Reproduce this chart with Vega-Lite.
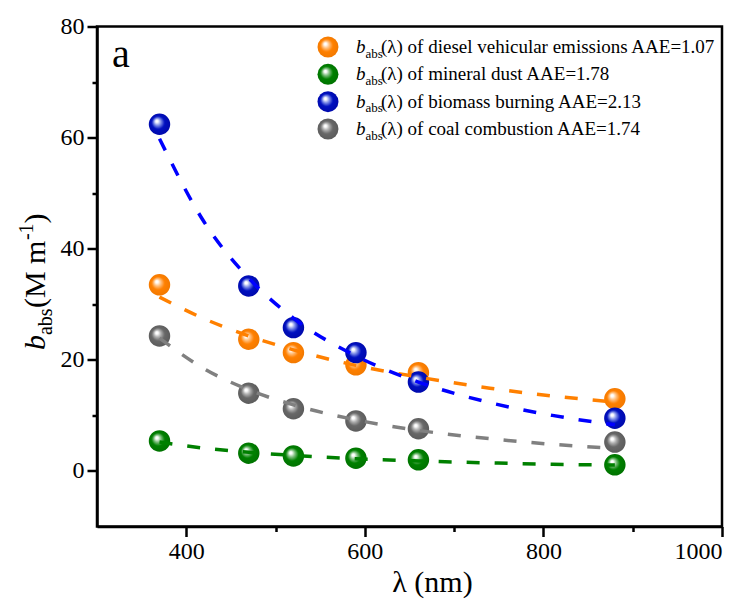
{
  "$schema": "https://vega.github.io/schema/vega-lite/v6.json",
  "width": 625,
  "height": 500,
  "autosize": {"type": "none"},
  "padding": {"left": 97, "top": 26.5, "right": 28, "bottom": 78.5},
  "background": "white",
  "config": {
    "view": {"stroke": "black", "strokeWidth": 2.5},
    "axis": {
      "grid": false,
      "domainColor": "black",
      "domainWidth": 2.5,
      "tickColor": "black",
      "tickWidth": 2.5,
      "labelFont": "Liberation Serif",
      "labelFontSize": 24,
      "labelColor": "black",
      "labelPadding": 3,
      "titleFont": "Liberation Serif",
      "titleFontSize": 30,
      "titleFontWeight": "normal",
      "titleColor": "black"
    }
  },
  "datasets": {
    "obs": [
      {"series": "diesel", "wl": 370, "b": 33.5},
      {"series": "diesel", "wl": 470, "b": 23.7},
      {"series": "diesel", "wl": 520, "b": 21.3},
      {"series": "diesel", "wl": 590, "b": 19.1},
      {"series": "diesel", "wl": 660, "b": 17.7},
      {"series": "diesel", "wl": 880, "b": 13.0},
      {"series": "dust", "wl": 370, "b": 5.4},
      {"series": "dust", "wl": 470, "b": 3.2},
      {"series": "dust", "wl": 520, "b": 2.7},
      {"series": "dust", "wl": 590, "b": 2.3},
      {"series": "dust", "wl": 660, "b": 2.0},
      {"series": "dust", "wl": 880, "b": 1.1},
      {"series": "biomass", "wl": 370, "b": 62.4},
      {"series": "biomass", "wl": 470, "b": 33.3},
      {"series": "biomass", "wl": 520, "b": 25.8},
      {"series": "biomass", "wl": 590, "b": 21.3},
      {"series": "biomass", "wl": 660, "b": 16.0},
      {"series": "biomass", "wl": 880, "b": 9.5},
      {"series": "coal", "wl": 370, "b": 24.3},
      {"series": "coal", "wl": 470, "b": 14.0},
      {"series": "coal", "wl": 520, "b": 11.2},
      {"series": "coal", "wl": 590, "b": 9.0},
      {"series": "coal", "wl": 660, "b": 7.6},
      {"series": "coal", "wl": 880, "b": 5.2}
    ],
    "fit": [
      {"series": "diesel", "wl": 370, "b": 31.3},
      {"series": "diesel", "wl": 420, "b": 27.4},
      {"series": "diesel", "wl": 470, "b": 24.3},
      {"series": "diesel", "wl": 520, "b": 21.8},
      {"series": "diesel", "wl": 590, "b": 19.0},
      {"series": "diesel", "wl": 660, "b": 16.9},
      {"series": "diesel", "wl": 740, "b": 14.9},
      {"series": "diesel", "wl": 810, "b": 13.5},
      {"series": "diesel", "wl": 880, "b": 12.4},
      {"series": "dust", "wl": 370, "b": 5.2},
      {"series": "dust", "wl": 420, "b": 4.1},
      {"series": "dust", "wl": 470, "b": 3.35},
      {"series": "dust", "wl": 520, "b": 2.8},
      {"series": "dust", "wl": 590, "b": 2.2},
      {"series": "dust", "wl": 660, "b": 1.8},
      {"series": "dust", "wl": 740, "b": 1.45},
      {"series": "dust", "wl": 810, "b": 1.2},
      {"series": "dust", "wl": 880, "b": 1.05},
      {"series": "biomass", "wl": 370, "b": 59.8},
      {"series": "biomass", "wl": 420, "b": 44.8},
      {"series": "biomass", "wl": 470, "b": 34.7},
      {"series": "biomass", "wl": 520, "b": 27.5},
      {"series": "biomass", "wl": 590, "b": 20.7},
      {"series": "biomass", "wl": 660, "b": 16.0},
      {"series": "biomass", "wl": 740, "b": 12.3},
      {"series": "biomass", "wl": 810, "b": 10.0},
      {"series": "biomass", "wl": 880, "b": 8.3},
      {"series": "coal", "wl": 370, "b": 23.9},
      {"series": "coal", "wl": 420, "b": 18.4},
      {"series": "coal", "wl": 470, "b": 14.6},
      {"series": "coal", "wl": 520, "b": 11.9},
      {"series": "coal", "wl": 590, "b": 9.2},
      {"series": "coal", "wl": 660, "b": 7.3},
      {"series": "coal", "wl": 740, "b": 5.8},
      {"series": "coal", "wl": 810, "b": 4.8},
      {"series": "coal", "wl": 880, "b": 4.05}
    ],
    "legend": [
      {"series": "diesel", "name": "(λ) of diesel vehicular emissions AAE=1.07"},
      {"series": "dust", "name": "(λ) of mineral dust AAE=1.78"},
      {"series": "biomass", "name": "(λ) of biomass burning AAE=2.13"},
      {"series": "coal", "name": "(λ) of coal combustion AAE=1.74"}
    ],
    "one": [{"id": 1}]
  },
  "layer": [
    {
      "layer": [
        {
          "data": {"name": "obs"},
          "transform": [{"filter": "datum.series === 'diesel'"}],
          "mark": {"type": "point", "shape": "circle", "filled": true, "size": 460, "opacity": 1, "strokeWidth": 0,
            "fill": {"gradient": "radial", "x1": 0.36, "y1": 0.34, "r1": 0, "x2": 0.5, "y2": 0.5, "r2": 0.55,
              "stops": [{"offset": 0, "color": "#ffffff"}, {"offset": 0.1, "color": "#ffffff"}, {"offset": 0.3, "color": "#ffc080"}, {"offset": 0.55, "color": "#ff8000"}, {"offset": 1, "color": "#f07800"}]}},
          "encoding": {
            "x": {
              "field": "wl", "type": "quantitative",
              "scale": {"domain": [300, 1000], "nice": false, "zero": false},
              "axis": {
                "values": [400, 500, 600, 700, 800, 900, 1000],
                "format": "d",
                "labelExpr": "datum.value % 200 === 0 ? datum.label : ''",
                "tickSize": {"condition": {"test": "datum.value % 200 === 0", "value": 10}, "value": 5},
                "title": "λ (nm)",
                "titleX": 335
              }
            },
            "y": {
              "field": "b", "type": "quantitative",
              "scale": {"domain": [-10, 80], "nice": false, "zero": false},
              "axis": {
                "values": [0, 10, 20, 30, 40, 50, 60, 70, 80],
                "labelExpr": "datum.value % 20 === 0 ? datum.label : ''",
                "tickSize": {"condition": {"test": "datum.value % 20 === 0", "value": 10}, "value": 5},
                "title": null
              }
            }
          }
        },
        {
          "data": {"name": "obs"},
          "transform": [{"filter": "datum.series === 'dust'"}],
          "mark": {"type": "point", "shape": "circle", "filled": true, "size": 460, "opacity": 1, "strokeWidth": 0,
            "fill": {"gradient": "radial", "x1": 0.36, "y1": 0.34, "r1": 0, "x2": 0.5, "y2": 0.5, "r2": 0.55,
              "stops": [{"offset": 0, "color": "#ffffff"}, {"offset": 0.1, "color": "#ffffff"}, {"offset": 0.3, "color": "#80c080"}, {"offset": 0.55, "color": "#008000"}, {"offset": 1, "color": "#007000"}]}},
          "encoding": {"x": {"field": "wl", "type": "quantitative"}, "y": {"field": "b", "type": "quantitative"}}
        },
        {
          "data": {"name": "obs"},
          "transform": [{"filter": "datum.series === 'biomass'"}],
          "mark": {"type": "point", "shape": "circle", "filled": true, "size": 460, "opacity": 1, "strokeWidth": 0,
            "fill": {"gradient": "radial", "x1": 0.36, "y1": 0.34, "r1": 0, "x2": 0.5, "y2": 0.5, "r2": 0.55,
              "stops": [{"offset": 0, "color": "#ffffff"}, {"offset": 0.1, "color": "#ffffff"}, {"offset": 0.3, "color": "#8090e8"}, {"offset": 0.55, "color": "#0010c0"}, {"offset": 1, "color": "#0008a8"}]}},
          "encoding": {"x": {"field": "wl", "type": "quantitative"}, "y": {"field": "b", "type": "quantitative"}}
        },
        {
          "data": {"name": "obs"},
          "transform": [{"filter": "datum.series === 'coal'"}],
          "mark": {"type": "point", "shape": "circle", "filled": true, "size": 460, "opacity": 1, "strokeWidth": 0,
            "fill": {"gradient": "radial", "x1": 0.36, "y1": 0.34, "r1": 0, "x2": 0.5, "y2": 0.5, "r2": 0.55,
              "stops": [{"offset": 0, "color": "#ffffff"}, {"offset": 0.1, "color": "#ffffff"}, {"offset": 0.3, "color": "#b0b0b0"}, {"offset": 0.55, "color": "#686868"}, {"offset": 1, "color": "#5a5a5a"}]}},
          "encoding": {"x": {"field": "wl", "type": "quantitative"}, "y": {"field": "b", "type": "quantitative"}}
        },
        {
          "data": {"name": "fit"},
          "mark": {"type": "line", "strokeDash": [13, 15], "strokeWidth": 3.5, "interpolate": "monotone"},
          "encoding": {
            "x": {"field": "wl", "type": "quantitative"},
            "y": {"field": "b", "type": "quantitative"},
            "color": {"field": "series", "type": "nominal",
              "scale": {"domain": ["diesel", "dust", "biomass", "coal"], "range": ["#ff8000", "#008000", "#0000ff", "#808080"]},
              "legend": null}
          }
        },
        {
          "data": {"name": "one"},
          "mark": {"type": "text", "text": "a", "align": "left", "baseline": "alphabetic", "font": "Liberation Serif", "fontSize": 40, "color": "black"},
          "encoding": {"x": {"datum": 316.8, "type": "quantitative"}, "y": {"datum": 72.7, "type": "quantitative"}}
        },
        {
          "data": {"name": "one"},
          "mark": {"type": "text", "text": "b", "angle": 270, "align": "left", "baseline": "alphabetic", "font": "Liberation Serif", "fontSize": 30, "fontStyle": "italic", "color": "black"},
          "encoding": {"x": {"datum": 241.8, "type": "quantitative"}, "y": {"datum": 21.76, "type": "quantitative"}}
        },
        {
          "data": {"name": "one"},
          "mark": {"type": "text", "text": "abs", "angle": 270, "align": "left", "baseline": "alphabetic", "font": "Liberation Serif", "fontSize": 20, "dx": 15, "dy": 7, "color": "black"},
          "encoding": {"x": {"datum": 241.8, "type": "quantitative"}, "y": {"datum": 21.76, "type": "quantitative"}}
        },
        {
          "data": {"name": "one"},
          "mark": {"type": "text", "text": "(M m", "angle": 270, "align": "left", "baseline": "alphabetic", "font": "Liberation Serif", "fontSize": 30, "dx": 42, "color": "black"},
          "encoding": {"x": {"datum": 241.8, "type": "quantitative"}, "y": {"datum": 21.76, "type": "quantitative"}}
        },
        {
          "data": {"name": "one"},
          "mark": {"type": "text", "text": "-1", "angle": 270, "align": "left", "baseline": "alphabetic", "font": "Liberation Serif", "fontSize": 20, "dx": 110, "dy": -12, "color": "black"},
          "encoding": {"x": {"datum": 241.8, "type": "quantitative"}, "y": {"datum": 21.76, "type": "quantitative"}}
        },
        {
          "data": {"name": "one"},
          "mark": {"type": "text", "text": ")", "angle": 270, "align": "left", "baseline": "alphabetic", "font": "Liberation Serif", "fontSize": 30, "dx": 126.5, "color": "black"},
          "encoding": {"x": {"datum": 241.8, "type": "quantitative"}, "y": {"datum": 21.76, "type": "quantitative"}}
        }
      ]
    },
    {
      "data": {"name": "legend"},
      "encoding": {
        "x": {"datum": 558.7, "type": "quantitative"},
        "y": {"field": "series", "type": "nominal",
          "scale": {"type": "point", "domain": ["diesel", "dust", "biomass", "coal"], "range": [20.5, 102.5], "padding": 0},
          "axis": null}
      },
      "layer": [
        {
          "transform": [{"filter": "datum.series === 'diesel'"}],
          "mark": {"type": "point", "shape": "circle", "filled": true, "size": 440, "opacity": 1, "strokeWidth": 0,
            "fill": {"gradient": "radial", "x1": 0.36, "y1": 0.34, "r1": 0, "x2": 0.5, "y2": 0.5, "r2": 0.55,
              "stops": [{"offset": 0, "color": "#ffffff"}, {"offset": 0.1, "color": "#ffffff"}, {"offset": 0.3, "color": "#ffc080"}, {"offset": 0.55, "color": "#ff8000"}, {"offset": 1, "color": "#f07800"}]}}
        },
        {
          "transform": [{"filter": "datum.series === 'dust'"}],
          "mark": {"type": "point", "shape": "circle", "filled": true, "size": 440, "opacity": 1, "strokeWidth": 0,
            "fill": {"gradient": "radial", "x1": 0.36, "y1": 0.34, "r1": 0, "x2": 0.5, "y2": 0.5, "r2": 0.55,
              "stops": [{"offset": 0, "color": "#ffffff"}, {"offset": 0.1, "color": "#ffffff"}, {"offset": 0.3, "color": "#80c080"}, {"offset": 0.55, "color": "#008000"}, {"offset": 1, "color": "#007000"}]}}
        },
        {
          "transform": [{"filter": "datum.series === 'biomass'"}],
          "mark": {"type": "point", "shape": "circle", "filled": true, "size": 440, "opacity": 1, "strokeWidth": 0,
            "fill": {"gradient": "radial", "x1": 0.36, "y1": 0.34, "r1": 0, "x2": 0.5, "y2": 0.5, "r2": 0.55,
              "stops": [{"offset": 0, "color": "#ffffff"}, {"offset": 0.1, "color": "#ffffff"}, {"offset": 0.3, "color": "#8090e8"}, {"offset": 0.55, "color": "#0010c0"}, {"offset": 1, "color": "#0008a8"}]}}
        },
        {
          "transform": [{"filter": "datum.series === 'coal'"}],
          "mark": {"type": "point", "shape": "circle", "filled": true, "size": 440, "opacity": 1, "strokeWidth": 0,
            "fill": {"gradient": "radial", "x1": 0.36, "y1": 0.34, "r1": 0, "x2": 0.5, "y2": 0.5, "r2": 0.55,
              "stops": [{"offset": 0, "color": "#ffffff"}, {"offset": 0.1, "color": "#ffffff"}, {"offset": 0.3, "color": "#b0b0b0"}, {"offset": 0.55, "color": "#686868"}, {"offset": 1, "color": "#5a5a5a"}]}}
        },
        {
          "mark": {"type": "text", "text": "b", "align": "left", "baseline": "alphabetic", "dx": 28, "dy": 6, "font": "Liberation Serif", "fontSize": 19, "fontStyle": "italic", "color": "black"}
        },
        {
          "mark": {"type": "text", "text": "abs", "align": "left", "baseline": "alphabetic", "dx": 37.5, "dy": 10.5, "font": "Liberation Serif", "fontSize": 13, "color": "black"}
        },
        {
          "mark": {"type": "text", "align": "left", "baseline": "alphabetic", "dx": 53, "dy": 6, "font": "Liberation Serif", "fontSize": 19, "color": "black"},
          "encoding": {"text": {"field": "name", "type": "nominal"}}
        }
      ]
    }
  ],
  "resolve": {"scale": {"y": "independent"}}
}
